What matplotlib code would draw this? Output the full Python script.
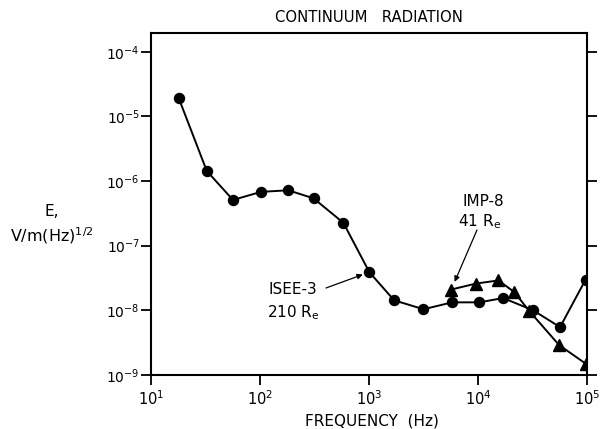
import numpy as np
import matplotlib
matplotlib.use("Agg")
import matplotlib.pyplot as plt

# --- daten ---
# ISEE-3, 210 Re (kreise)
isee_freq = [18, 32.5, 56.5, 102, 182, 310, 582, 1007, 1700, 3160, 5800, 10300, 17000, 32100, 56600, 97200]
isee_e = [1.9e-5, 1.43e-6, 5.1e-7, 6.8e-7, 7.2e-7, 5.4e-7, 2.26e-7, 3.9e-8, 1.43e-8, 1.04e-8,
          1.33e-8, 1.33e-8, 1.55e-8, 1.0e-8, 5.5e-9, 3.0e-8]

# IMP-8, 41 Re (dreiecke)
imp_freq = [5690, 9620, 15400, 21500, 29500, 55500, 97200]
imp_e = [2.1e-8, 2.6e-8, 2.9e-8, 1.92e-8, 9.8e-9, 2.9e-9, 1.5e-9]

xticks = [1e1, 1e2, 1e3, 1e4, 1e5]
xticklabels = ["$10^{1}$", "$10^{2}$", "$10^{3}$", "$10^{4}$", "$10^{5}$"]
yticks = [1e-9, 1e-8, 1e-7, 1e-6, 1e-5, 1e-4]
yticklabels = ["$10^{-9}$", "$10^{-8}$", "$10^{-7}$", "$10^{-6}$", "$10^{-5}$", "$10^{-4}$"]

plt.rcParams["font.family"] = ["DejaVu Sans"]
plt.rcParams["mathtext.default"] = "regular"

fig = plt.figure(figsize=(6.03, 4.29), dpi=100)
ax = fig.add_axes([151 / 603, 1 - 375 / 429, 436 / 603, 342 / 429])

ax.plot(isee_freq, isee_e, color="k", lw=1.4, marker="o", ms=7.2)
ax.plot(imp_freq, imp_e, color="k", lw=1.4, marker="^", ms=8.5)

ax.set_xscale("log")
ax.set_yscale("log")
ax.set_xlim(1e1, 1e5)
ax.set_ylim(1e-9, 10 ** -3.71)
ax.minorticks_off()
ax.set_xticks(xticks)
ax.set_xticklabels(xticklabels, fontsize=10.5)
ax.set_yticks(yticks)
ax.set_yticklabels(yticklabels, fontsize=10)
ax.tick_params(direction="out", length=7, width=1.3, right=True, labelright=False, pad=1)
ax.tick_params(axis="x", pad=3)

for s in ax.spines.values():
    s.set_linewidth(1.5)

# beschriftungen
fig.text(369 / 603, 1 - 17 / 429, "CONTINUUM   RADIATION", ha="center", va="center", fontsize=10.7)
fig.text(372 / 603, 1 - 421 / 429, "FREQUENCY  (Hz)", ha="center", va="center", fontsize=11)
fig.text(52 / 603, 1 - 212 / 429, "E,", ha="center", va="center", fontsize=11)
fig.text(52 / 603, 1 - 236 / 429, "V/m(Hz)$^{1/2}$", ha="center", va="center", fontsize=11.5)

fig.text(293 / 603, 1 - 289 / 429, "ISEE-3", ha="center", va="center", fontsize=11)
fig.text(293 / 603, 1 - 313 / 429, "210 R$_e$", ha="center", va="center", fontsize=11)
fig.text(483 / 603, 1 - 201 / 429, "IMP-8", ha="center", va="center", fontsize=11)
fig.text(480 / 603, 1 - 222 / 429, "41 R$_e$", ha="center", va="center", fontsize=11)

ax.annotate("", xy=(isee_freq[7], isee_e[7]), xycoords="data",
            xytext=(326, 429 - 288), textcoords="figure pixels",
            arrowprops=dict(arrowstyle="-|>", color="k", lw=0.9, shrinkA=0, shrinkB=5,
                            mutation_scale=8))
ax.annotate("", xy=(imp_freq[0], imp_e[0]), xycoords="data",
            xytext=(477, 429 - 230), textcoords="figure pixels",
            arrowprops=dict(arrowstyle="-|>", color="k", lw=0.9, shrinkA=0, shrinkB=6,
                            mutation_scale=8))

fig.savefig("out.png", dpi=100)
